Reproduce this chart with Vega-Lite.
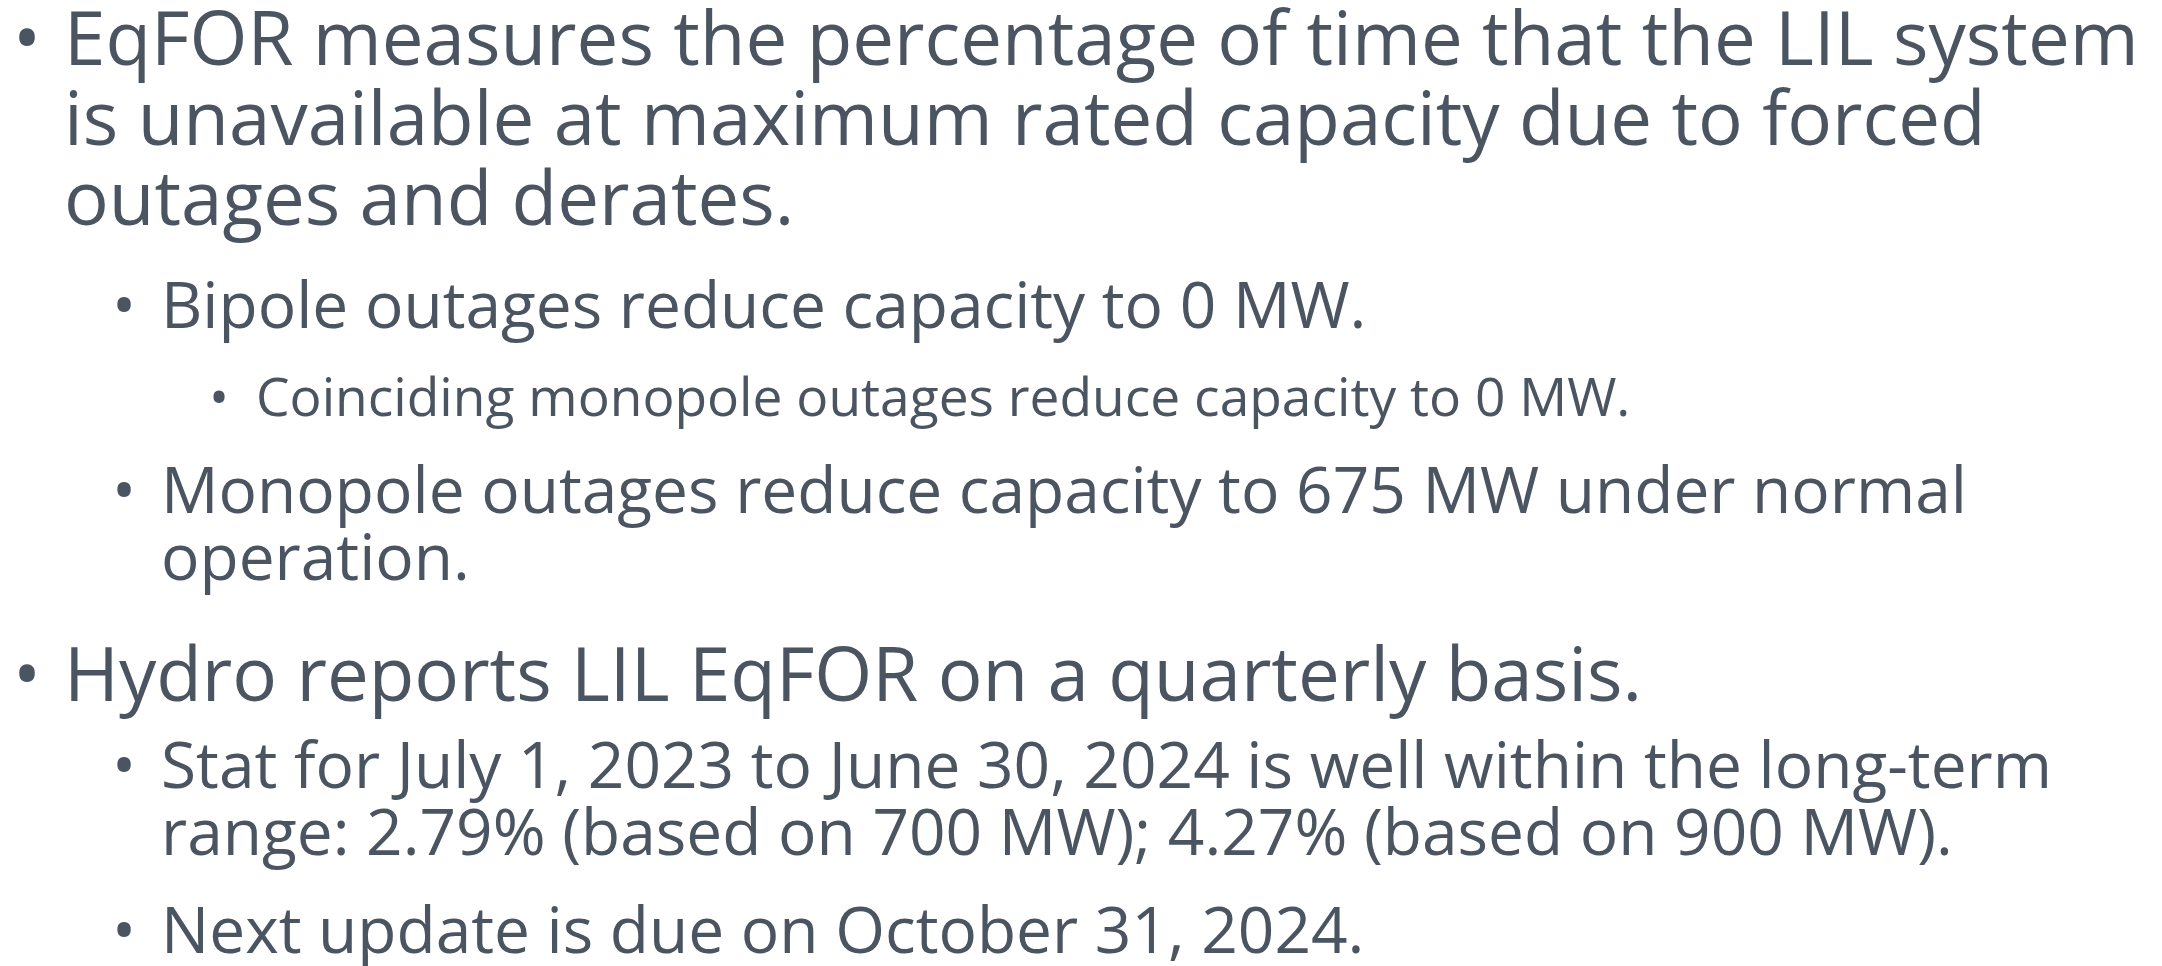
{
  "$schema": "https://vega.github.io/schema/vega-lite/v6.json",
  "width": 2162,
  "height": 966,
  "padding": 0,
  "autosize": {"type": "none"},
  "background": "#ffffff",
  "config": {"view": {"stroke": null}},
  "data": {
    "values": [
      {"line": 1, "level": 1, "bullet": "•", "text": "EqFOR measures the percentage of time that the LIL system"},
      {"line": 2, "level": 1, "bullet": "", "text": "is unavailable at maximum rated capacity due to forced"},
      {"line": 3, "level": 1, "bullet": "", "text": "outages and derates."},
      {"line": 4, "level": 2, "bullet": "•", "text": "Bipole outages reduce capacity to 0 MW."},
      {"line": 5, "level": 3, "bullet": "•", "text": "Coinciding monopole outages reduce capacity to 0 MW."},
      {"line": 6, "level": 2, "bullet": "•", "text": "Monopole outages reduce capacity to 675 MW under normal"},
      {"line": 7, "level": 2, "bullet": "", "text": "operation."},
      {"line": 8, "level": 1, "bullet": "•", "text": "Hydro reports LIL EqFOR on a quarterly basis."},
      {"line": 9, "level": 2, "bullet": "•", "text": "Stat for July 1, 2023 to June 30, 2024 is well within the long-term"},
      {"line": 10, "level": 2, "bullet": "", "text": "range: 2.79% (based on 700 MW); 4.27% (based on 900 MW)."},
      {"line": 11, "level": 2, "bullet": "•", "text": "Next update is due on October 31, 2024."}
    ]
  },
  "encoding": {
    "x": {"field": "level", "type": "quantitative", "axis": null,
          "scale": {"domain": [1, 2, 3], "range": [64, 161, 256], "nice": false, "zero": false}},
    "y": {"field": "line", "type": "quantitative", "axis": null,
          "scale": {"domain": [1, 2, 3, 4, 5, 6, 7, 8, 9, 10, 11],
                    "range": [65, 145, 225, 328, 416, 513, 580, 701, 788, 855, 953],
                    "nice": false, "zero": false}},
    "size": {"field": "level", "type": "quantitative", "legend": null,
             "scale": {"domain": [1, 2, 3], "range": [74.5, 64, 53.3], "zero": false, "nice": false}}
  },
  "layer": [
    {
      "mark": {"type": "text", "align": "left", "baseline": "alphabetic",
               "font": "Open Sans", "color": "#4b5461"},
      "encoding": {"text": {"field": "text"}}
    },
    {
      "mark": {"type": "text", "align": "center", "baseline": "alphabetic",
               "font": "Open Sans", "color": "#4b5461", "dx": -37},
      "encoding": {"text": {"field": "bullet"}}
    }
  ]
}
